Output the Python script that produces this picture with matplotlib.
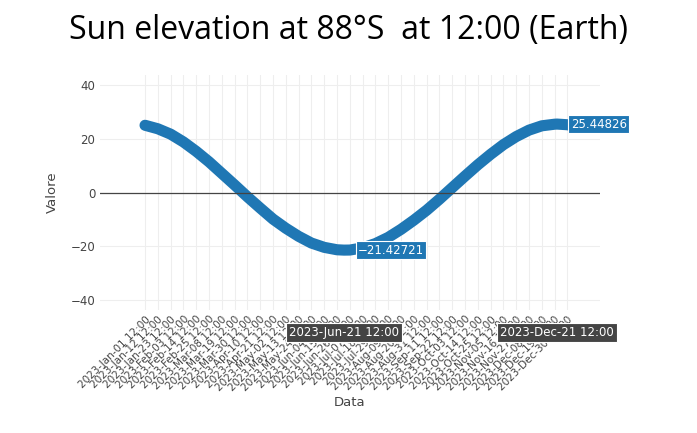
import matplotlib
matplotlib.use("Agg")
import matplotlib.pyplot as plt
import datetime as dt

dates = ["2023-01-01","2023-01-12","2023-01-23","2023-02-03","2023-02-14","2023-02-25",
         "2023-03-08","2023-03-19","2023-03-30","2023-04-10","2023-04-21","2023-05-02",
         "2023-05-13","2023-05-24","2023-06-04","2023-06-15","2023-06-21","2023-06-26",
         "2023-07-07","2023-07-18","2023-07-29","2023-08-09","2023-08-20","2023-08-31",
         "2023-09-11","2023-09-22","2023-10-03","2023-10-14","2023-10-25","2023-11-05",
         "2023-11-16","2023-11-27","2023-12-08","2023-12-19","2023-12-21","2023-12-30","2023-12-31"]
values = [25.0,23.7,21.7,18.8,15.3,11.4,7.1,2.8,-1.6,-5.8,-9.9,-13.3,-16.3,-18.8,-20.4,
          -21.3,-21.42721,-21.4,-20.6,-19.0,-16.7,-13.7,-10.3,-6.6,-2.5,1.8,6.1,10.3,14.2,
          17.8,20.8,23.2,24.8,25.4,25.44826,25.2,25.1]
tick_dates = ["2023-01-01","2023-01-12","2023-01-23","2023-02-03","2023-02-14","2023-02-25",
              "2023-03-08","2023-03-19","2023-03-30","2023-04-10","2023-04-21","2023-05-02",
              "2023-05-13","2023-05-24","2023-06-04","2023-06-15","2023-06-26","2023-07-07",
              "2023-07-18","2023-07-29","2023-08-09","2023-08-20","2023-08-31","2023-09-11",
              "2023-09-22","2023-10-03","2023-10-14","2023-10-25","2023-11-05","2023-11-16",
              "2023-11-27","2023-12-08","2023-12-19","2023-12-30"]

def doy(s):
    return (dt.date.fromisoformat(s) - dt.date(2023, 1, 1)).days

x = [doy(d) for d in dates]
tx = [doy(d) for d in tick_dates]
tl = [dt.date.fromisoformat(d).strftime("%Y-%b-%d") + " 12:00" for d in tick_dates]

fig = plt.figure(figsize=(6.97, 4.33), dpi=100)
ax = fig.add_axes([100/697, 1-310/433, 500/697, 235/433])
ax.plot(x, values, color="#1f77b4", lw=8, solid_capstyle="round")
ax.set_xlim(-38.7, 354 + 37)
ax.set_ylim(-43.7, 43.7)
ax.set_yticks([-40, -20, 0, 20, 40])
ax.set_xticks(tx)
ax.set_xticklabels(tl, rotation=45, ha="right", rotation_mode="anchor", color="#444")
ax.tick_params(axis="both", length=0, colors="#444", labelsize=8.5)
ax.tick_params(axis="x", labelsize=7.5, pad=3)
ax.grid(True, color="#eeeeee", lw=0.8)
ax.axhline(0, color="#444", lw=0.9)
for s in ax.spines.values():
    s.set_visible(False)
ax.set_ylabel("Valore", fontsize=9.5, color="#444", labelpad=8)
ax.set_xlabel("Data", fontsize=9.5, color="#444", labelpad=2)
fig.text(0.5, 1-30/433, "Sun elevation at 88°S  at 12:00 (Earth)", ha="center", va="center",
         fontsize=23, family="Open Sans")

imin = values.index(min(values)); imax = values.index(max(values))
for i, t in [(imin, "−21.42721"), (imax, "25.44826")]:
    ax.annotate(t, (x[i], values[i]), xytext=(10, 0), textcoords="offset points",
                va="center", ha="left", fontsize=8.5, color="white",
                bbox=dict(boxstyle="square,pad=0.2", fc="#1f77b4", ec="white", lw=0.8))
    ax.annotate(dt.date.fromisoformat(dates[i]).strftime("%Y-%b-%d") + " 12:00",
                (x[i], -43.7), xytext=(0, -16), textcoords="offset points",
                va="center", ha="center", fontsize=8.5, color="white", annotation_clip=False,
                bbox=dict(boxstyle="square,pad=0.25", fc="#444444", ec="white", lw=0.8))
fig.savefig("out.png", dpi=100)
